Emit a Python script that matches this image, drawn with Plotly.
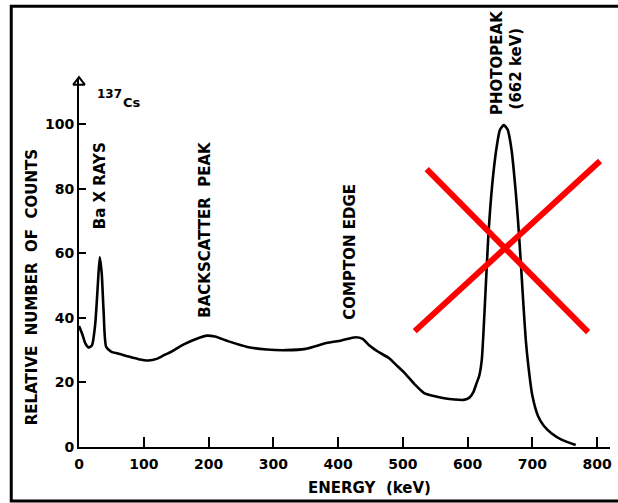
import plotly.graph_objects as go

# Spectrum of 137Cs
energy_kev = [0, 5, 10, 15, 20, 25, 29, 32, 35, 38, 42, 50, 60, 77, 92, 107, 120, 130, 145, 161, 175, 188, 197, 210,
              230, 260, 290, 320, 350, 382, 405, 427, 438, 448, 462, 479, 492, 503, 518, 533, 548, 564, 580, 594,
              603, 609, 614, 618, 622, 627, 632, 638, 645, 650, 656, 662, 668, 674, 678, 682, 686, 690, 694, 700,
              709, 718, 730, 745, 767]
rel_counts = [37.5, 35, 32, 30.8, 31.5, 38, 50, 58.8, 54, 42, 31, 29.5, 29, 28, 27.2, 26.8, 27.3, 28.3, 29.8, 31.7, 33, 34,
              34.5, 34.2, 32.8, 31, 30.2, 30, 30.4, 32.2, 33, 34, 33.5, 31.5, 29.5, 27.5, 25, 22.9, 19.5, 16.7, 15.8, 15.1, 14.7, 14.6,
              15.3, 17, 19.8, 22, 27, 45, 65, 81, 93, 98.2, 99.7, 98.3, 92, 80, 70, 58, 45, 33, 25, 16,
              9.5, 6.5, 4.2, 2.3, 0.6]

x_ticks = [0, 100, 200, 300, 400, 500, 600, 700, 800]
y_ticks = [0, 20, 40, 60, 80, 100]

# Peak labels inside the axes: (text, energy, counts)
peak_labels = ["Ba X RAYS", "BACKSCATTER  PEAK", "COMPTON EDGE"]
peak_label_x = [32, 194, 418]
peak_label_y = [81, 67.5, 60.4]

# Photopeak labels sit above the axis range (energy, paper height)
top_labels = ["PHOTOPEAK", "(662 keV)"]
top_label_x = [645.5, 674]
top_label_y = [1.0435, 1.03]

# Red cross over the photopeak (energy, counts end points)
cross_x0 = [518.5, 536.9]
cross_y0 = [35.9, 86.1]
cross_x1 = [804.6, 786.2]
cross_y1 = [88.6, 35.6]

FONT = "DejaVu Sans"


def bold(s):
    return "<b>" + s + "</b>"


fig = go.Figure()
fig.add_trace(go.Scatter(x=energy_kev, y=rel_counts, mode="lines",
                         line=dict(color="black", width=2.6, shape="spline", smoothing=0.6),
                         hoverinfo="skip", showlegend=False))
# hollow arrow head at top of the y axis
fig.add_trace(go.Scatter(x=[0], y=[113], mode="markers",
                         marker=dict(symbol="triangle-up-open", size=10, color="black", line=dict(width=2)),
                         cliponaxis=False, hoverinfo="skip", showlegend=False))

annotations = []
for t, xv, yv in zip(peak_labels, peak_label_x, peak_label_y):
    annotations.append(dict(text=bold(t), x=xv, y=yv, xref="x", yref="y", showarrow=False, textangle=-90,
                            xanchor="center", yanchor="middle",
                            font=dict(family=FONT, size=15, color="black")))
for t, xv, yv in zip(top_labels, top_label_x, top_label_y):
    annotations.append(dict(text=bold(t), x=xv, y=yv, xref="x", yref="paper", showarrow=False, textangle=-90,
                            xanchor="center", yanchor="middle",
                            font=dict(family=FONT, size=15, color="black")))
annotations.append(dict(text=bold("137"), x=47, y=109.4, xref="x", yref="y", showarrow=False,
                        xanchor="center", yanchor="middle", font=dict(family=FONT, size=12, color="black")))
annotations.append(dict(text=bold("Cs"), x=82, y=106.7, xref="x", yref="y", showarrow=False,
                        xanchor="center", yanchor="middle", font=dict(family=FONT, size=13, color="black")))
annotations.append(dict(text=bold("RELATIVE  NUMBER  OF  COUNTS"), x=-0.088, y=0.435, xref="paper", yref="paper",
                        xanchor="center", yanchor="middle",
                        showarrow=False, textangle=-90, font=dict(family=FONT, size=15, color="black")))
annotations.append(dict(text=bold("ENERGY  (keV)"), x=0.547, y=-0.111, xref="paper", yref="paper",
                        xanchor="center", yanchor="middle",
                        showarrow=False, font=dict(family=FONT, size=15, color="black")))

shapes = []
for a, b, c, d in zip(cross_x0, cross_y0, cross_x1, cross_y1):
    shapes.append(dict(type="line", x0=a, y0=b, x1=c, y1=d, xref="x", yref="y",
                       line=dict(color="#ff0000", width=6)))
# outer frame
shapes.append(dict(type="rect", xref="paper", yref="paper", x0=-0.1276, y0=-0.1467, x1=1.03, y1=1.198,
                   line=dict(color="black", width=3), fillcolor="rgba(0,0,0,0)", layer="above"))

fig.update_layout(
    width=618, height=503,
    margin=dict(l=79, r=6, t=79, b=56),
    paper_bgcolor="white", plot_bgcolor="white",
    font=dict(family=FONT, size=14, color="black"),
    showlegend=False,
    annotations=annotations,
    shapes=shapes,
    xaxis=dict(range=[0, 820], tickvals=x_ticks, ticktext=[bold(str(v)) for v in x_ticks],
               showline=True, linecolor="black", linewidth=2, ticks="inside", ticklen=10, tickwidth=2,
               tickcolor="black", showgrid=False, zeroline=False, tickfont=dict(family=FONT, size=14),
               ticklabelstandoff=3),
    yaxis=dict(range=[0, 114], tickvals=y_ticks, ticktext=[bold(str(v)) for v in y_ticks],
               showline=True, linecolor="black", linewidth=2, ticks="inside", ticklen=7, tickwidth=2,
               tickcolor="black", showgrid=False, zeroline=False, tickfont=dict(family=FONT, size=14)),
)

fig.write_html("out.html", config={"displayModeBar": False},
               post_script="document.body.style.margin='0';document.body.style.overflow='hidden';")
